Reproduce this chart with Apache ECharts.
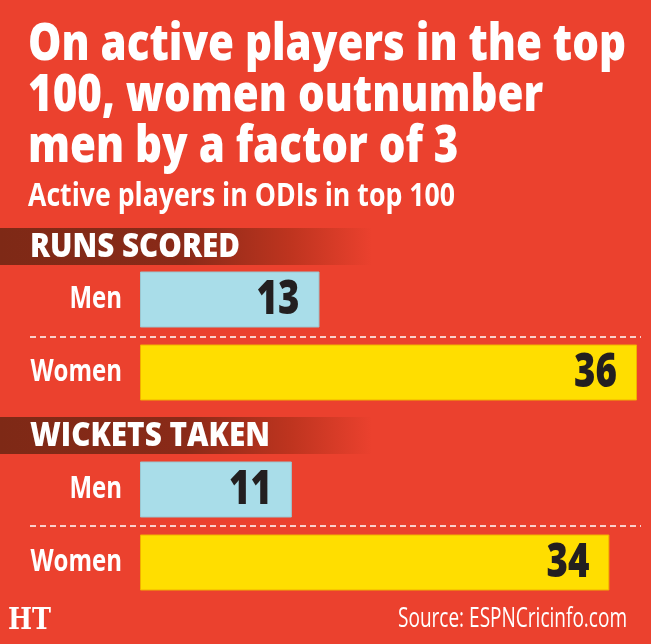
<!DOCTYPE html>
<html><head><meta charset="utf-8">
<script src="https://cdn.jsdelivr.net/npm/echarts@6/dist/echarts.min.js"></script>
<style>html,body{margin:0;padding:0;background:#EB412E;}#c{width:651px;height:644px;}</style>
</head><body><div id="c"></div>
<script>
const categories = ["Men", "Women"];
const runsScored = [13, 36];
const wicketsTaken = [11, 34];
const sectionTitles = ["RUNS SCORED", "WICKETS TAKEN"];
const titleLines = ["On active players in the top", "100, women outnumber", "men by a factor of 3"];
const subtitle = "Active players in ODIs in top 100";
const sourceText = "Source: ESPNCricinfo.com";
const barColors = ["#A9DDE9", "#FFDE00"];

const FONT = '"Open Sans","DejaVu Sans Condensed",sans-serif';
const mctx = document.createElement('canvas').getContext('2d');
function measure(text, font) { mctx.font = font; return mctx.measureText(text).width; }

const chart = echarts.init(document.getElementById('c'), null, {renderer: 'canvas'});

function txt(text, x, y, size, weight, targetW, opts) {
  const font = weight + ' ' + size + 'px ' + FONT;
  const sx = targetW ? targetW / measure(text, font) : (opts && opts.sx) || 1;
  return {type: 'text', x: x, y: y, scaleX: sx, silent: true,
    style: {text: text, fill: '#fff', font: font, textVerticalAlign: 'middle',
      textAlign: (opts && opts.align) || 'left'}};
}

const titleFont = '800 52px ' + FONT;
const titleScale = 598 / measure(titleLines[0], titleFont);

function band(y, text, w) {
  return [
    {type: 'rect', shape: {x: 0, y: y, width: 372, height: 37}, silent: true,
     style: {fill: new echarts.graphic.LinearGradient(0, 0, 1, 0, [
       {offset: 0, color: '#7E2916'}, {offset: 0.5, color: '#8A2A18'},
       {offset: 0.78, color: '#BE341F'}, {offset: 1, color: '#EB412E'}])}},
    txt(text, 30, y + 19, 34, '800', w)
  ];
}
function dash(y) {
  return {type: 'line', shape: {x1: 30, y1: y, x2: 641, y2: y}, silent: true,
    style: {stroke: '#fff', lineWidth: 1.6, lineDash: [6, 4]}};
}

function grid(top) { return {left: 140, top: top, width: 497 * 37 / 36, height: 146}; }
function xAx(i) { return {type: 'value', gridIndex: i, min: 0, max: 37, show: false}; }
function yAx(i) {
  return {type: 'category', gridIndex: i, data: categories, inverse: true, show: false};
}
function bars(i, vals) {
  return {type: 'bar', xAxisIndex: i, yAxisIndex: i, barWidth: 56, z: 2,
    data: vals.map((v, k) => ({value: v, itemStyle: {color: barColors[k],
      borderColor: k === 0 ? '#9CC6D0' : '#F2B000', borderWidth: 1}})),
    silent: true};
}
function labels(i, vals) {
  return {type: 'custom', xAxisIndex: i, yAxisIndex: i, silent: true, z: 10,
    encode: {x: 0, y: 1},
    data: vals.map((v, k) => [v, k]),
    renderItem: function (params, api) {
      const v = api.value(0), k = api.value(1);
      const end = api.coord([v, k]);
      const start = api.coord([0, k]);
      return {type: 'group', children: [
        {type: 'text', x: end[0] - 20, y: end[1] + 1, scaleX: 0.78, z2: 100,
         style: {text: String(v), fill: '#231F20', font: '800 47px ' + FONT,
           textAlign: 'right', textVerticalAlign: 'middle'}},
        {type: 'text', x: start[0] - 18, y: start[1], scaleX: 0.8,
         style: {text: categories[k], fill: '#fff', font: 'bold 30px ' + FONT,
           textAlign: 'right', textVerticalAlign: 'middle'}}
      ]};
    }};
}

const graphics = [];
titleLines.forEach((t, i) => {
  graphics.push(txt(t, 28, 45 + i * 51, 52, '800', null, {sx: titleScale}));
});
graphics.push(txt(subtitle, 28, 197, 33, 'bold', 427));
graphics.push(...band(228, sectionTitles[0], 210));
graphics.push(...band(417, sectionTitles[1], 240));
graphics.push(dash(337), dash(526));
graphics.push(txt(sourceText, 627, 619, 27, 'normal', 229, {align: 'right'}));
graphics.push({type: 'text', x: 8, y: 621, scaleX: 0.85, silent: true,
  style: {text: 'HT', fill: '#fff', font: 'bold 30px "DejaVu Serif",serif', textVerticalAlign: 'middle'}});

chart.setOption({
  backgroundColor: '#EB412E',
  animation: false,
  grid: [grid(263), grid(453)],
  xAxis: [xAx(0), xAx(1)],
  yAxis: [yAx(0), yAx(1)],
  series: [bars(0, runsScored), bars(1, wicketsTaken), labels(0, runsScored), labels(1, wicketsTaken)],
  graphic: graphics
});
</script></body></html>
